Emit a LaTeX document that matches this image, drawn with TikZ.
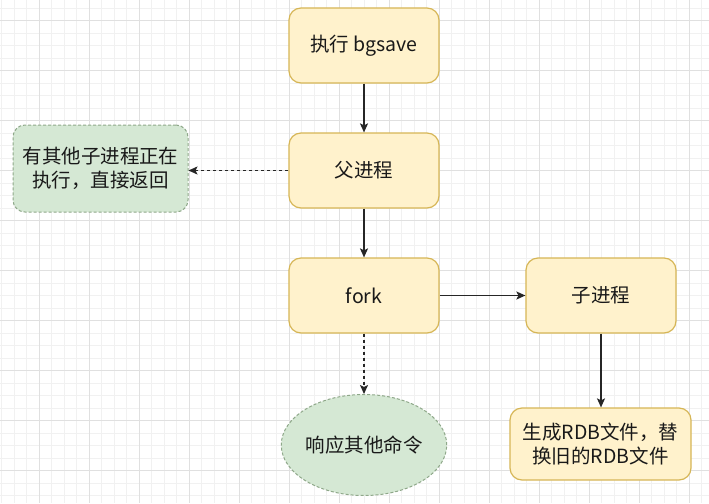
\documentclass[tikz,border=0pt]{standalone}
\usepackage{fontspec}
\setmainfont{Noto Sans CJK SC}
\usetikzlibrary{arrows.meta,shapes.geometric}
\definecolor{procfill}{HTML}{FFF2CC}
\definecolor{procline}{HTML}{D6B656}
\definecolor{altfill}{HTML}{D5E8D4}
\definecolor{altline}{HTML}{8FA88A}
\definecolor{gridminor}{HTML}{F1F1F1}
\definecolor{gridmajor}{HTML}{E0E0E0}
\begin{document}
\begin{tikzpicture}[x=1pt,y=-1pt,font=\fontsize{19.5}{24}\selectfont,
  proc/.style={draw=procline,fill=procfill,rounded corners=12pt,line width=1.2pt,minimum width=150pt,minimum height=75pt,align=center,text=black!90},
  alt/.style={draw=altline,fill=altfill,dash pattern=on 3pt off 2pt,line width=1pt,align=center,text=black!90},
  flow/.style={-{Stealth[length=9pt,width=8pt,inset=2pt]},line width=1.4pt,black!85}]
\useasboundingbox (0,0) rectangle (709,503);
\fill[white] (0,0) rectangle (709,503);
% grid
\foreach \x in {1.5,14,...,709}{\draw[gridminor,line width=0.8pt] (\x,0)--(\x,503);}
\foreach \y in {8.2,20.7,...,503}{\draw[gridminor,line width=0.8pt] (0,\y)--(709,\y);}
\foreach \x in {39,89,...,709}{\draw[gridmajor,line width=0.9pt] (\x,0)--(\x,503);}
\foreach \y in {20.7,70.7,...,503}{\draw[gridmajor,line width=0.9pt] (0,\y)--(709,\y);}
% nodes
\node[proc] (bgsave) at (364,45.5) {执行 bgsave};
\node[proc] (parent) at (364,170.5) {父进程};
\node[proc] (fork) at (364,295.5) {fork};
\node[proc] (child) at (601,295.5) {子进程};
\node[proc,minimum width=181pt,minimum height=72pt] (rdb) at (600.5,444) {生成RDB文件，替\\换旧的RDB文件};
\node[alt,rounded corners=12pt,minimum width=175pt,minimum height=87pt] (busy) at (100.5,168.5) {有其他子进程正在\\执行，直接返回};
\node[alt,ellipse,inner sep=0pt,minimum width=162pt,minimum height=101pt] (reply) at (364,445) {响应其他命令};
% connectors
\draw[flow] (bgsave) -- (parent);
\draw[flow] (parent) -- (fork);
\draw[flow] (fork) -- (child);
\draw[flow] (child.south) -- (child.south |- rdb.north);
\draw[flow,dash pattern=on 3pt off 3pt] (parent.west) -- (parent.west -| busy.east);
\draw[flow,dash pattern=on 3pt off 3pt] (fork) -- (reply);
\end{tikzpicture}
\end{document}
